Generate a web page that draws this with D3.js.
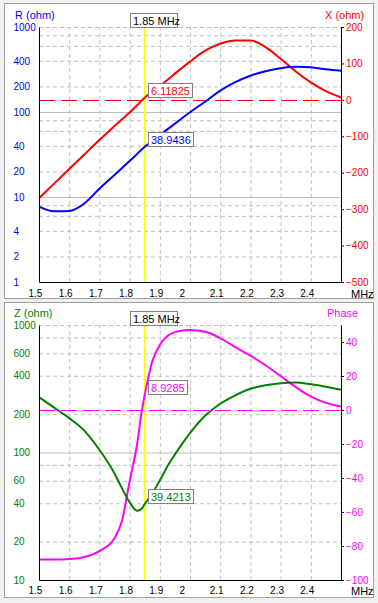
<!DOCTYPE html>
<html>
<head>
<meta charset="utf-8">
<script src="https://cdn.jsdelivr.net/npm/d3@7"></script>
<style>
  body { margin: 0; background: #f0f0f0; }
  svg { display: block; font-family: "Liberation Sans", Arial, sans-serif; font-size: 11px; }
  .grid line { stroke: #c0c0c0; stroke-dasharray: 4,3; }
  .grid .domain { display: none; }
  .solid line { stroke: #c0c0c0; }
  .solid .domain { display: none; }
  .axis .domain { stroke: #000; }
  .axis line { stroke: #000; }
</style>
</head>
<body>
<svg id="chart" width="378" height="603"></svg>
<script>
// --- data ---
const freq  = [1.5, 1.55, 1.6, 1.65, 1.7, 1.75, 1.775, 1.8, 1.825, 1.84, 1.85, 1.86, 1.875,
               1.9, 1.925, 1.95, 2.0, 2.05, 2.1, 2.15, 2.2, 2.25, 2.3, 2.35, 2.4, 2.45, 2.5];
const rOhm  = [7.7, 6.8, 6.85, 8.4, 12.5, 18.2, 22, 26.5, 32.1, 36.1, 38.94, 41.4, 45.6,
               53.2, 62.4, 73, 99.5, 132, 178, 224, 267, 301, 327, 340, 335, 318, 305];
const xOhm  = [-270, -230, -190, -150, -110, -72, -53, -35, -15, -2, 6.1, 13, 22,
               37.5, 54.5, 72, 105, 135, 154, 163, 163, 145, 113, 78, 48, 24, 7];
const zOhm  = [272, 225, 186, 148.6, 105, 68.5, 52.3, 40.7, 34.9, 36.2, 39.42, 42.6, 47.8,
               60.4, 77.7, 96.4, 142, 194, 241, 281, 316, 337, 349, 354, 343, 328, 310];
const phase = [-88, -88, -87.7, -86.5, -83, -75.5, -65, -42, -20, -1, 8.93, 17.5, 28.5,
               38.3, 43.5, 45.8, 47, 46, 42.3, 37, 32, 26.3, 20, 13.5, 8, 4.2, 2.1];

const cursorFreq = 1.85;
const cursorR = "38.9436", cursorX = "6.11825", cursorZ = "39.4213", cursorPhase = "8.9285";

const freqTicks  = [1.5, 1.6, 1.7, 1.8, 1.9, 2.0, 2.1, 2.2, 2.3, 2.4];
const rTicks     = [1, 2, 4, 10, 20, 40, 100, 200, 400, 1000];
const rGrid      = [2, 4, 6, 8, 20, 40, 60, 80, 200, 400, 600, 800, 1000];
const rSolid     = [10, 100];
const xTicks     = [200, 100, 0, -100, -200, -300, -400, -500];
const zTicks     = [10, 20, 40, 60, 100, 200, 400, 600, 1000];
const zGrid      = [20, 40, 60, 80, 200, 400, 600, 800, 1000];
const zSolid     = [100];
const phaseTicks = [40, 20, 0, -20, -40, -60, -80, -100];

const svg = d3.select("#chart");
const pts = freq.map((f, i) => ({ f, r: rOhm[i], x: xOhm[i], z: zOhm[i], p: phase[i] }));

function drawPanel(o) {
  const g = svg.append("g");

  g.append("rect")
    .attr("x", 4.5).attr("y", o.boxTop + 0.5)
    .attr("width", 369).attr("height", 295)
    .attr("fill", "#fff").attr("stroke", "#a0a0a0");

  const x = d3.scaleLinear().domain([1.5, 2.5]).range([39, 341]);
  const yL = d3.scaleLog().domain(o.leftDomain).range([o.bottom, o.top]);
  const yR = d3.scaleLinear().domain(o.rightDomain).range([o.bottom, o.top]);

  // grid
  g.append("g").attr("class", "grid")
    .attr("transform", `translate(0,${o.bottom})`)
    .call(d3.axisBottom(x).tickValues(freqTicks.slice(1)).tickSize(-(o.bottom - o.top)).tickFormat(""));
  g.append("g").attr("class", "grid")
    .attr("transform", "translate(39,0)")
    .call(d3.axisLeft(yL).tickValues(o.gridVals).tickSize(-302).tickFormat(""));
  g.append("g").attr("class", "solid")
    .attr("transform", "translate(39,0)")
    .call(d3.axisLeft(yL).tickValues(o.solidVals).tickSize(-302).tickFormat(""));

  // zero line of right axis
  g.append("line")
    .attr("x1", 39).attr("x2", 341)
    .attr("y1", Math.round(yR(0)) + 0.5).attr("y2", Math.round(yR(0)) + 0.5)
    .attr("stroke", o.rightColor).attr("stroke-dasharray", "16,6");

  // cursor
  const cx = x(cursorFreq);
  g.append("line")
    .attr("x1", cx).attr("x2", cx).attr("y1", o.top).attr("y2", o.bottom)
    .attr("stroke", "#ffff00").attr("stroke-width", 2);

  // curves
  const lineL = d3.line().x(d => x(d.f)).y(d => yL(d[o.leftKey])).curve(d3.curveMonotoneX);
  const lineR = d3.line().x(d => x(d.f)).y(d => yR(d[o.rightKey])).curve(d3.curveMonotoneX);
  g.append("path").datum(pts).attr("d", lineR)
    .attr("fill", "none").attr("stroke", o.rightColor).attr("stroke-width", 2);
  g.append("path").datum(pts).attr("d", lineL)
    .attr("fill", "none").attr("stroke", o.leftColor).attr("stroke-width", 2);

  // left axis
  const ax = g.append("g").attr("class", "axis")
    .attr("transform", "translate(39,0)")
    .call(d3.axisLeft(yL).tickValues(o.leftTicks).tickSize(0).tickFormat(d3.format("d")));
  ax.selectAll("text").attr("text-anchor", "start").attr("x", -25.5).attr("fill", o.leftColor);

  // right axis
  const ar = g.append("g").attr("class", "axis")
    .attr("transform", "translate(341,0)")
    .call(d3.axisRight(yR).tickValues(o.rightTicks).tickSize(3).tickSizeOuter(0).tickPadding(2));
  ar.selectAll("text").attr("fill", o.rightColor);

  // bottom axis
  const ab = g.append("g").attr("class", "axis")
    .attr("transform", `translate(0,${o.bottom})`)
    .call(d3.axisBottom(x).tickValues(freqTicks).tickSize(0).tickSizeOuter(0).tickPadding(o.xPad)
      .tickFormat(d => String(+d.toFixed(1))));
  ab.selectAll("text").attr("text-anchor", "start").attr("x", -11).attr("fill", "#000");
  ab.select(".domain").attr("d", "M39.5,0.5H341.5");

  g.append("text").attr("x", 351).attr("y", o.bottom + o.xPad + 8).text("MHz");

  // titles
  g.append("text").attr("x", o.leftTitleX).attr("y", o.top - 8).attr("fill", o.leftColor).text(o.leftTitle);
  g.append("text").attr("x", o.rightTitleX).attr("y", o.top - 8).attr("fill", o.rightColor).text(o.rightTitle);

  // cursor frequency box
  const fb = g.append("g").attr("transform", `translate(${Math.round(cx) - 15},${o.top - 14})`);
  fb.append("rect").attr("x", 0.5).attr("y", 0.5).attr("width", 47).attr("height", 14)
    .attr("fill", "#fff").attr("stroke", "#808080");
  fb.append("text").attr("x", 3).attr("y", 11.5).attr("fill", "#000").text(cursorFreq + " MHz");

  // value boxes
  function valueBox(py, txt, color) {
    const b = g.append("g").attr("transform", `translate(${Math.round(cx) + 3},${Math.round(py) - 15})`);
    const r = b.append("rect").attr("x", 0.5).attr("y", 0.5).attr("height", 14)
      .attr("fill", "#fff").attr("stroke", "#808080");
    const t = b.append("text").attr("x", 3).attr("y", 11.5).attr("fill", color).text(txt);
    r.attr("width", Math.round(t.node().getComputedTextLength()) + 5);
  }
  valueBox(yR(+o.rightVal), o.rightVal, o.rightColor);
  valueBox(yL(+o.leftVal), o.leftVal, o.leftColor);
}

drawPanel({
  boxTop: 3, top: 27, bottom: 282,
  leftDomain: [1, 1000], rightDomain: [-500, 200],
  leftKey: "r", rightKey: "x",
  leftColor: "#0000ff", rightColor: "#ff0000",
  leftTicks: rTicks, rightTicks: xTicks, gridVals: rGrid, solidVals: rSolid,
  leftTitle: "R (ohm)", rightTitle: "X (ohm)", leftTitleX: 15, rightTitleX: 325,
  leftVal: cursorR, rightVal: cursorX, xPad: 8
});

drawPanel({
  boxTop: 302, top: 325, bottom: 580,
  leftDomain: [10, 1000], rightDomain: [-100, 50],
  leftKey: "z", rightKey: "p",
  leftColor: "#008000", rightColor: "#ff00ff",
  leftTicks: zTicks, rightTicks: phaseTicks, gridVals: zGrid, solidVals: zSolid,
  leftTitle: "Z (ohm)", rightTitle: "Phase", leftTitleX: 14, rightTitleX: 327,
  leftVal: cursorZ, rightVal: cursorPhase, xPad: 7
});
</script>
</body>
</html>
